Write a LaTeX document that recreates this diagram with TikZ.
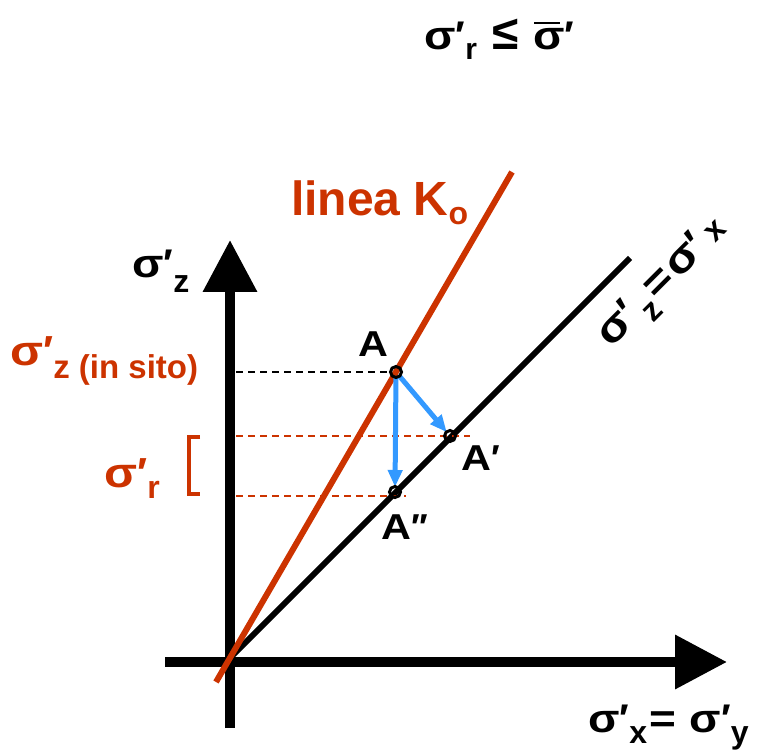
\documentclass[tikz,border=0pt]{standalone}
\usepackage{fontspec}
\setmainfont{Liberation Sans}
\usepackage{graphicx}
\usetikzlibrary{arrows.meta}
\definecolor{kred}{RGB}{204,51,0}
\definecolor{kblue}{RGB}{51,153,255}
\newcommand\lowsub[3]{\raisebox{#1}{\fontsize{#2}{#2}\selectfont #3}}
\newcommand\fsz[1]{\fontsize{#1}{#1}\selectfont}
\newcommand\wide[1]{\scalebox{1.15}[1]{#1}}
\tikzset{
  axis/.style={line width=10pt, -{Triangle[length=52pt,width=52pt]}},
  dline/.style={line width=6pt},
  hdash/.style={line width=1.6pt, dash pattern=on 7pt off 5pt},
  barrow/.style={kblue, line width=5pt, -{Triangle[length=17pt,width=14pt]}},
  pt/.style={circle, draw=black, line width=3pt, inner sep=0pt, minimum size=11pt},
  lbl/.style={font=\bfseries, inner sep=0pt}
}
\begin{document}
\begin{tikzpicture}[x=1pt,y=-1pt]
\useasboundingbox (0,0) rectangle (761,751);
% axes
\coordinate (vb) at (230,728);
\coordinate (vt) at (230,240);
\coordinate (hl) at (165,662);
\coordinate (hr) at (727,662);
\draw[axis] (vb) -- (vt);
\draw[axis] (hl) -- (hr);
% diagonal lines
\coordinate (O1) at (228,660);
\coordinate (D1) at (630,258);
\coordinate (R0) at (216,682);
\coordinate (R1) at (512,172);
\draw[dline] (O1) -- (D1);
\draw[dline, kred] (R0) -- (R1);
% points
\coordinate (A) at (396,372);
\coordinate (Ap) at (450,436);
\coordinate (App) at (395,492);
% dashed helpers
\coordinate (dA) at (236,372);
\coordinate (dAe) at (392,372);
\coordinate (dB) at (236,436);
\coordinate (dBe) at (470,436);
\coordinate (dC) at (236,496);
\coordinate (dCe) at (406,496);
\draw[hdash] (dA) -- (dAe);
\draw[hdash, kred] (dB) -- (dBe);
\draw[hdash, kred] (dC) -- (dCe);
% blue arrows
\draw[barrow, shorten >=5pt, shorten <=4pt] (A) -- (Ap);
\draw[barrow, shorten >=5pt, shorten <=4pt] (A) -- (App);
\node[pt] (nA) at (A) {};
\node[pt] (nAp) at (Ap) {};
\node[pt] (nApp) at (App) {};
% bracket
\coordinate (b1) at (200,437);
\coordinate (b2) at (189,437);
\coordinate (b3) at (189,494);
\coordinate (b4) at (200,494);
\draw[kred, line width=4.5pt] (b1) -- (b2) -- (b3) -- (b4);
% labels
\node[lbl, anchor=base west, font=\bfseries\fsz{40}] (top) at (424,50)
  {\wide{σ}′\lowsub{-10pt}{30pt}{r}\hspace{16pt}\scalebox{1.2}{≤}\hspace{14pt}\rlap{\hspace{0.02em}\rule[0.64em]{0.66em}{0.06em}}\wide{σ}′};
\node[lbl, anchor=base west, kred, font=\bfseries\fsz{48}] (lk) at (291,216)
  {linea K\lowsub{-9pt}{32pt}{o}};
\node[lbl, anchor=base west, font=\bfseries\fsz{40}] (sz) at (132,278)
  {\wide{σ}′\lowsub{-15pt}{32pt}{z}};
\node[lbl, anchor=base west, kred, font=\bfseries\fsz{42}] (szis) at (10,366)
  {\wide{σ}′\lowsub{-13pt}{33pt}{z (in sito)}};
\node[lbl, anchor=base west, kred, font=\bfseries\fsz{42}] (sr) at (104,487)
  {\wide{σ}′\lowsub{-11pt}{32pt}{r}};
\node[lbl, anchor=base west, font=\bfseries\fsz{36}] (lA) at (358,357) {\wide{A}};
\node[lbl, anchor=base west, font=\bfseries\fsz{36}] (lAp) at (461,470) {\wide{A}′};
\node[lbl, anchor=base west, font=\bfseries\fsz{36}] (lApp) at (381,539) {\wide{A}′′};
\node[lbl, anchor=base west, font=\bfseries\fsz{40}] (sxy) at (588,732)
  {\wide{σ}′\lowsub{-11pt}{32pt}{x}\hspace{2pt}\wide{=}\hspace{14pt}\wide{σ}′\lowsub{-11pt}{32pt}{y}};
\node[lbl, rotate=45, font=\bfseries\fsz{42}] (diag) at (664,284)
  {\wide{σ}′\hspace{4pt}\lowsub{-13pt}{32pt}{z}\hspace{3pt}\wide{=}\hspace{2pt}\wide{σ}′\hspace{8pt}\lowsub{0pt}{32pt}{x}};
\end{tikzpicture}
\end{document}
